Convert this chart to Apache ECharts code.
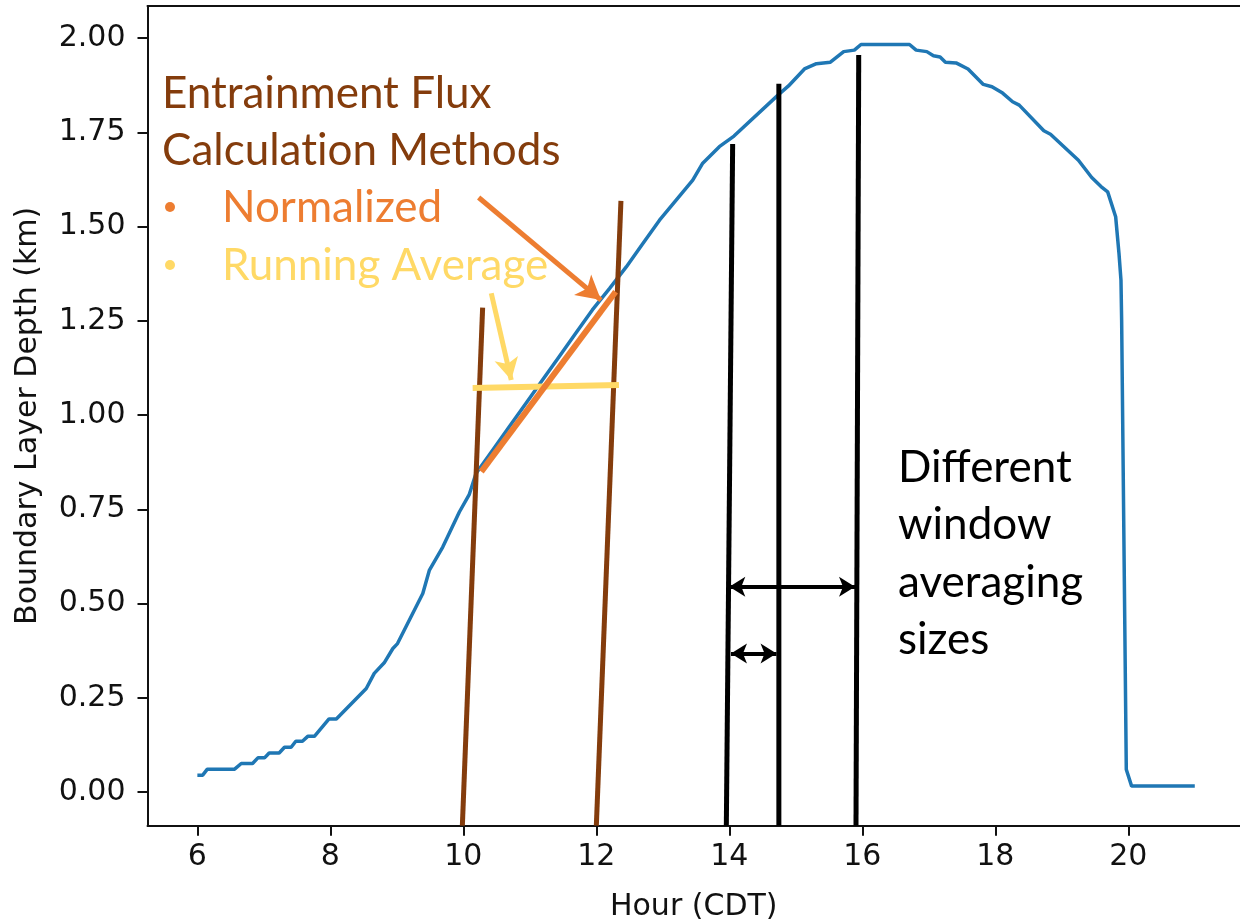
<!DOCTYPE html>
<html>
<head>
<meta charset="utf-8">
<script src="https://cdn.jsdelivr.net/npm/echarts@6/dist/echarts.min.js"></script>
<style>
  html, body { margin: 0; padding: 0; background: #ffffff; }
  #chart { width: 1240px; height: 923px; }
</style>
</head>
<body>
<div id="chart"></div>
<script>
// Boundary layer depth through the day (hour CDT, km)
const hours = [6.00, 6.08, 6.15, 6.56, 6.66, 6.83, 6.91, 7.01, 7.08, 7.23, 7.31, 7.41, 7.48, 7.58, 7.66, 7.76,
  7.98, 8.09, 8.54, 8.66, 8.81, 8.94, 9.01, 9.39, 9.49, 9.69, 9.94, 10.09, 10.19, 10.44, 10.69, 10.94,
  11.19, 11.44, 11.69, 11.94, 12.20, 12.45, 12.70, 12.95, 13.20, 13.45, 13.60, 13.85, 14.07, 14.74,
  14.89, 15.13, 15.31, 15.52, 15.62, 15.72, 15.88, 15.98, 16.71, 16.81, 16.97, 17.07, 17.17, 17.25,
  17.41, 17.59, 17.82, 17.95, 18.11, 18.26, 18.36, 18.73, 18.83, 19.25, 19.45, 19.59, 19.69, 19.81,
  19.86, 19.89, 19.90, 19.97, 20.05, 21.00];
const depth = [0.045, 0.045, 0.061, 0.061, 0.076, 0.076, 0.091, 0.091, 0.104, 0.104, 0.119, 0.119, 0.135, 0.135, 0.148, 0.148,
  0.194, 0.194, 0.275, 0.315, 0.343, 0.381, 0.394, 0.527, 0.589, 0.650, 0.743, 0.790, 0.845, 0.907, 0.969, 1.031,
  1.093, 1.155, 1.217, 1.279, 1.336, 1.393, 1.455, 1.517, 1.570, 1.623, 1.668, 1.712, 1.740, 1.850,
  1.873, 1.918, 1.932, 1.936, 1.950, 1.964, 1.968, 1.983, 1.983, 1.968, 1.964, 1.953, 1.950, 1.936,
  1.934, 1.918, 1.877, 1.871, 1.854, 1.831, 1.822, 1.754, 1.745, 1.676, 1.630, 1.606, 1.592, 1.526,
  1.429, 1.358, 1.252, 0.060, 0.016, 0.016];

const xTicks = [6, 8, 10, 12, 14, 16, 18, 20];
const yTicks = [0, 0.25, 0.5, 0.75, 1.0, 1.25, 1.5, 1.75, 2.0];

// Flux calculation window edges (hour, km)
const methodWindowLines = [
  [[9.985, -0.089], [10.29, 1.285]],
  [[12.00, -0.089], [12.37, 1.568]]
];
// Normalized-method fit and running-average level across the window
const normalizedFit = [[10.27, 0.850], [12.29, 1.327]];
const runningAverage = [[10.14, 1.072], [12.34, 1.080]];
// Pointers from the method names to their marks (tail, tip)
const normalizedPointer = [[10.23, 1.577], [12.07, 1.305]];
const runningPointer = [[10.42, 1.323], [10.72, 1.093]];

// Averaging window edges and the spans between them
const averagingWindowLines = [
  [[13.955, -0.089], [14.05, 1.719]],
  [[14.745, -0.089], [14.745, 1.879]],
  [[15.905, -0.089], [15.946, 1.955]]
];
const windowSpans = [
  [[14.00, 0.545], [15.89, 0.545]],
  [[14.025, 0.368], [14.71, 0.368]]
];

// "\u200C" keeps the font from fusing "ti" into a ligature
const methodTitle = ['Entrainment Flux', 'Calculat\u200Cion Methods'];
const methodNames = ['Normalized', 'Running Average'];
const windowNote = ['Different', 'window', 'averaging', 'sizes'];

const BROWN = '#843C0C';
const ORANGE = '#ED7D31';
const YELLOW = '#FFD966';
const BLUE = '#1f77b4';

const chart = echarts.init(document.getElementById('chart'), null, { renderer: 'canvas' });

const tickFont = { fontFamily: 'DejaVu Sans', fontSize: 30, color: '#111111' };

function segmentSeries(points, color, width, z) {
  return {
    type: 'line',
    data: points,
    showSymbol: false,
    symbol: 'none',
    silent: true,
    lineStyle: { color: color, width: width, cap: 'butt' },
    z: z,
    animation: false
  };
}

function arrowMark(pair, color, width, symbols, size) {
  return {
    silent: true,
    symbol: symbols,
    symbolSize: size,
    label: { show: false },
    lineStyle: { color: color, width: width, type: 'solid' },
    itemStyle: { color: color },
    emphasis: { disabled: true },
    animation: false,
    data: [[{ coord: pair[0] }, { coord: pair[1] }]]
  };
}

const series = [];
series.push({
  type: 'line',
  data: hours.map((h, i) => [h, depth[i]]),
  showSymbol: false,
  symbol: 'none',
  silent: true,
  lineStyle: { color: BLUE, width: 3.5 },
  z: 2,
  animation: false
});
methodWindowLines.forEach(seg => series.push(segmentSeries(seg, BROWN, 5, 3)));

const yellowSeries = segmentSeries(runningAverage, YELLOW, 6, 4);
yellowSeries.markLine = arrowMark(runningPointer, YELLOW, 5, ['none', 'arrow'], [18, 22]);
series.push(yellowSeries);

const orangeSeries = segmentSeries(normalizedFit, ORANGE, 6, 5);
orangeSeries.markLine = arrowMark(normalizedPointer, ORANGE, 5, ['none', 'arrow'], [20, 24]);
series.push(orangeSeries);

averagingWindowLines.forEach(seg => series.push(segmentSeries(seg, '#000000', 5, 6)));
windowSpans.forEach(span => {
  series.push({
    type: 'line',
    data: [],
    silent: true,
    z: 6,
    markLine: arrowMark(span, '#000000', 4, ['arrow', 'arrow'], [15, 16])
  });
});

// Annotation text blocks (Calibri-like sans)
const noteFont = 'Lato, "Open Sans", sans-serif';
const noteSize = 44;
const graphics = [];
methodTitle.forEach((t, i) => {
  graphics.push({
    type: 'text', left: 162, top: 72 + i * 57, z: 20,
    style: { text: t, fill: BROWN, font: `${noteSize}px ${noteFont}` }
  });
});
[ORANGE, YELLOW].forEach((c, i) => {
  graphics.push({
    type: 'circle', shape: { cx: 170, cy: 207 + i * 58, r: 5 }, z: 20,
    style: { fill: c }
  });
  graphics.push({
    type: 'text', left: 222, top: 186 + i * 58, z: 20,
    style: { text: methodNames[i], fill: c, font: `${noteSize}px ${noteFont}` }
  });
});
windowNote.forEach((t, i) => {
  graphics.push({
    type: 'text', left: 898, top: 446 + i * 57.3, z: 20,
    style: { text: t, fill: '#000000', font: `${noteSize}px ${noteFont}` }
  });
});

const option = {
  backgroundColor: '#ffffff',
  animation: false,
  grid: { left: 147.5, right: 0, top: 6, bottom: 97.3, containLabel: false, outerBoundsMode: 'none' },
  xAxis: [{
    type: 'value',
    min: 5.25,
    max: 21.68,
    name: 'Hour (CDT)',
    nameLocation: 'middle',
    nameGap: 67,
    nameTextStyle: { fontFamily: 'DejaVu Sans', fontSize: 30, color: '#111111' },
    axisLine: { show: true, onZero: false, lineStyle: { color: '#111111', width: 2 } },
    axisTick: { show: true, length: 10, customValues: xTicks, lineStyle: { color: '#111111', width: 2 } },
    axisLabel: Object.assign({ margin: 17, customValues: xTicks, formatter: v => String(v) }, tickFont),
    splitLine: { show: false }
  }, {
    type: 'value',
    position: 'top',
    min: 5.25,
    max: 21.68,
    axisLine: { show: true, onZero: false, lineStyle: { color: '#111111', width: 2 } },
    axisTick: { show: false },
    axisLabel: { show: false },
    splitLine: { show: false }
  }],
  yAxis: {
    type: 'value',
    min: -0.089,
    max: 2.085,
    name: 'Boundary Layer Depth (km)',
    nameLocation: 'middle',
    nameGap: 104,
    nameTextStyle: { fontFamily: 'DejaVu Sans', fontSize: 30, color: '#111111' },
    axisLine: { show: true, onZero: false, lineStyle: { color: '#111111', width: 2 } },
    axisTick: { show: true, length: 10, customValues: yTicks, lineStyle: { color: '#111111', width: 2 } },
    axisLabel: Object.assign({ margin: 22, customValues: yTicks, formatter: v => v.toFixed(2) }, tickFont),
    splitLine: { show: false }
  },
  series: series,
  graphic: graphics
};

chart.setOption(option);
</script>
</body>
</html>
